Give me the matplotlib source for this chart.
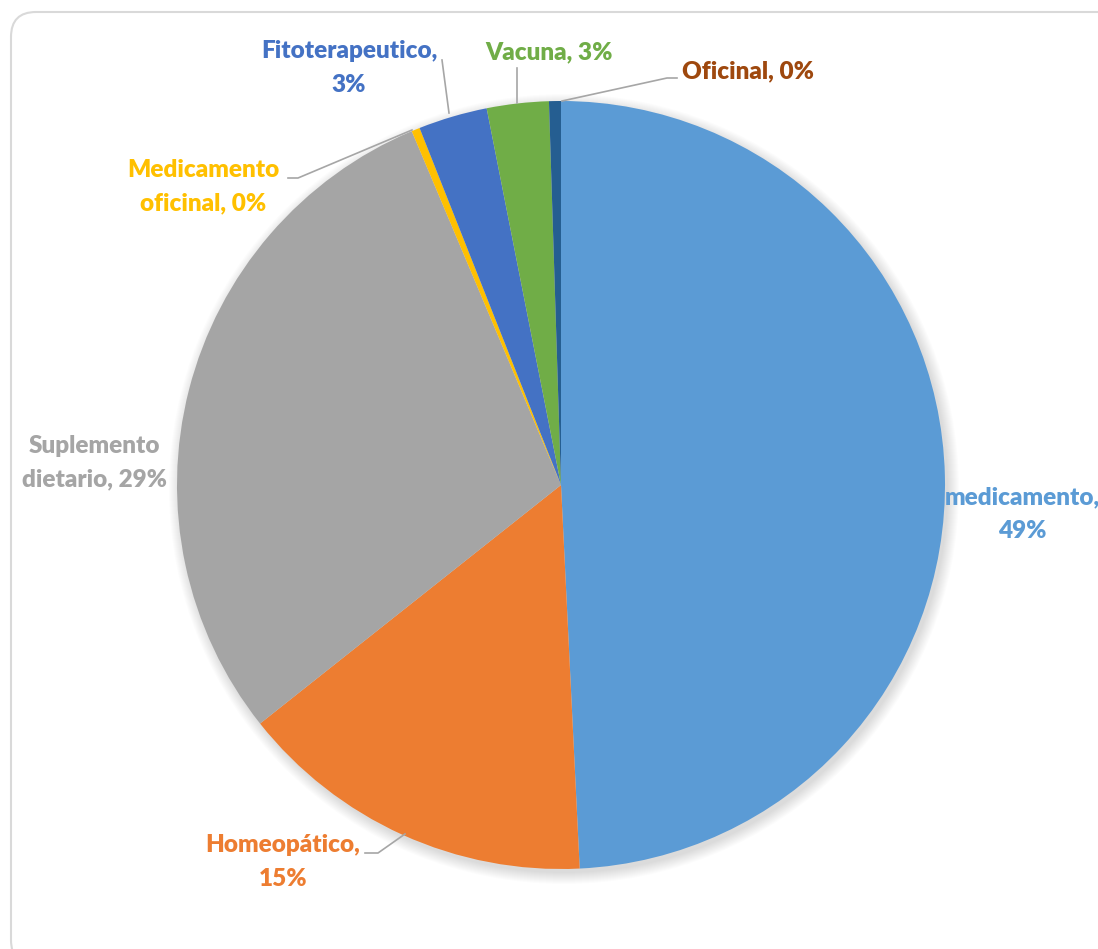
import matplotlib
matplotlib.use("Agg")
import matplotlib.pyplot as plt
from matplotlib.patches import FancyBboxPatch, Circle

categories = ["medicamento", "Homeopático", "Suplemento dietario", "Medicamento oficinal",
              "Fitoterapeutico", "Vacuna", "Oficinal"]
values = [49.2, 15.1, 29.3, 0.35, 2.9, 2.6, 0.5]
pct_labels = ["49%", "15%", "29%", "0%", "3%", "3%", "0%"]
colors = ["#5B9BD5", "#ED7D31", "#A5A5A5", "#FFC000", "#4472C4", "#70AD47", "#255E91"]
label_colors = ["#5B9BD5", "#ED7D31", "#A5A5A5", "#FFC000", "#4472C4", "#70AD47", "#9E480E"]

W, H = 1098, 949
fig = plt.figure(figsize=(W / 100, H / 100), dpi=100)
ax = fig.add_axes([0, 0, 1, 1])
ax.set_xlim(0, W)
ax.set_ylim(0, H)
ax.axis("off")

def py(y):
    return H - y

# frame
frame = FancyBboxPatch((11, py(965)), 1120, 965 - 12, boxstyle="round,pad=0,rounding_size=25",
                       fc="white", ec="#D9D9D9", lw=1.5, zorder=0)
ax.add_patch(frame)

cx, cy, r = 561, py(485), 384

# soft shadow
for i in range(12):
    ax.add_patch(Circle((cx + 3, cy - 4), r + 11 - i, fc="black", ec="none", alpha=0.010, zorder=1))

ax.pie(values, colors=colors, startangle=90, counterclock=False, center=(cx, cy), radius=r,
       wedgeprops=dict(edgecolor="none", zorder=2), frame=True)
ax.set_xlim(0, W)
ax.set_ylim(0, H)
ax.set_aspect("equal")
ax.axis("off")

font = dict(family="Lato", fontweight="heavy", fontsize=17.5)

label_text = [
    "medicamento,\n" + pct_labels[0],
    categories[1] + ",\n" + pct_labels[1],
    "Suplemento\ndietario, " + pct_labels[2],
    "Medicamento\noficinal, " + pct_labels[3],
    categories[4] + ",\n" + pct_labels[4],
    categories[5] + ", " + pct_labels[5],
    categories[6] + ", " + pct_labels[6],
]
label_pos = [(1022, 514), (283, 862), (94, 463), (203, 187), (349, 68), (549, 52), (748, 71)]
for t, (x, y), c in zip(label_text, label_pos, label_colors):
    ax.text(x, py(y), t, color=c, ha="center", va="center", linespacing=1.62, zorder=5, **font)

leaders = [
    [(365, 853), (378, 853), (405, 834)],
    [(288, 178), (298, 178), (412, 130)],
    [(442, 60), (449, 113)],
    [(517, 68), (517, 103)],
    [(677, 78), (667, 78), (562, 101)],
]
for pts in leaders:
    ax.plot([p[0] for p in pts], [py(p[1]) for p in pts], color="#A6A6A6", lw=1.2, zorder=4)

fig.savefig("out.png", dpi=100)
